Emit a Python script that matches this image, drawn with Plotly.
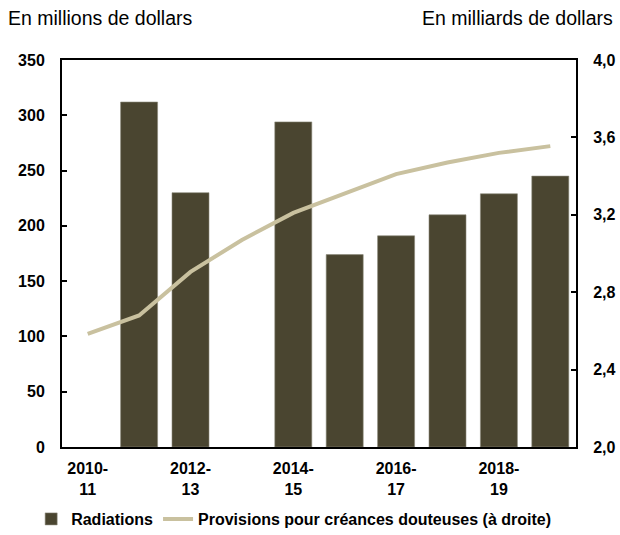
import plotly.graph_objects as go

# Fiscal years
categories = ["2010-11", "2011-12", "2012-13", "2013-14", "2014-15",
              "2015-16", "2016-17", "2017-18", "2018-19", "2019-20"]
# Write-offs, millions of dollars (None = no bar)
radiations = [None, 312, 230, None, 294, 174, 191, 210, 229, 245]
# Allowance for doubtful accounts, billions of dollars (right axis)
provisions = [2.585, 2.68, 2.905, 3.07, 3.21, 3.31, 3.41, 3.47, 3.52, 3.555]

tick_vals = ["2010-11", "2012-13", "2014-15", "2016-17", "2018-19"]
tick_text = ["2010-<br>11", "2012-<br>13", "2014-<br>15", "2016-<br>17", "2018-<br>19"]
left_ticks = [0, 50, 100, 150, 200, 250, 300, 350]
right_ticks = [2.0, 2.4, 2.8, 3.2, 3.6, 4.0]
right_tick_text = ["2,0", "2,4", "2,8", "3,2", "3,6", "4,0"]

bar_color = "#4a4530"
line_color = "#c9c19f"
font_family = "Liberation Sans, Arial, sans-serif"


def bold(labels):
    return [f"<b>{t}</b>" for t in labels]


tick_font = dict(size=16, color="black", family=font_family)

fig = go.Figure()
fig.add_trace(go.Bar(
    x=categories, y=radiations, name="<b>Radiations</b>",
    marker=dict(color=bar_color, line=dict(color="#8a8878", width=0.6)),
    width=0.72, yaxis="y",
))
fig.add_trace(go.Scatter(
    x=categories, y=provisions, name="<b>Provisions pour créances douteuses (à droite)</b>",
    mode="lines", line=dict(color=line_color, width=4), yaxis="y2",
))

fig.update_layout(
    width=620, height=535,
    margin=dict(l=62, r=44, t=60, b=88, autoexpand=False),
    paper_bgcolor="white", plot_bgcolor="white",
    font=dict(family=font_family, size=16, color="black"),
    showlegend=True,
    legend=dict(orientation="h", x=-0.06, xanchor="left",
                y=-0.186, yanchor="middle",
                font=dict(size=16, color="black", family=font_family),
                itemwidth=30, tracegroupgap=0, bgcolor="rgba(0,0,0,0)"),
    xaxis=dict(
        type="category", categoryorder="array", categoryarray=categories,
        tickmode="array", tickvals=tick_vals, ticktext=bold(tick_text),
        tickfont=tick_font, ticklabelstandoff=6,
        showline=True, linecolor="black", linewidth=2, mirror=True,
        ticks="", showgrid=False, tickangle=0,
    ),
    yaxis=dict(
        range=[0, 350], tickmode="array", tickvals=left_ticks,
        ticktext=bold([str(v) for v in left_ticks]),
        tickfont=tick_font, ticklabelstandoff=12,
        showline=True, linecolor="black", linewidth=2,
        ticks="inside", ticklen=5, tickwidth=2, tickcolor="black",
        showgrid=False, zeroline=False,
    ),
    yaxis2=dict(
        range=[2.0, 4.0], overlaying="y", side="right",
        tickmode="array", tickvals=right_ticks, ticktext=bold(right_tick_text),
        tickfont=tick_font, ticklabelstandoff=12,
        showline=True, linecolor="black", linewidth=2,
        ticks="inside", ticklen=5, tickwidth=2, tickcolor="black",
        showgrid=False, zeroline=False,
    ),
    annotations=[
        dict(text="En millions de dollars", xref="paper", yref="paper",
             x=-0.108, y=1.108, xanchor="left", yanchor="middle", showarrow=False,
             font=dict(size=19.5, color="black", family=font_family)),
        dict(text="En milliards de dollars", xref="paper", yref="paper",
             x=1.076, y=1.108, xanchor="right", yanchor="middle", showarrow=False,
             font=dict(size=19.5, color="black", family=font_family)),
    ],
)

fig.write_html("out.html")
